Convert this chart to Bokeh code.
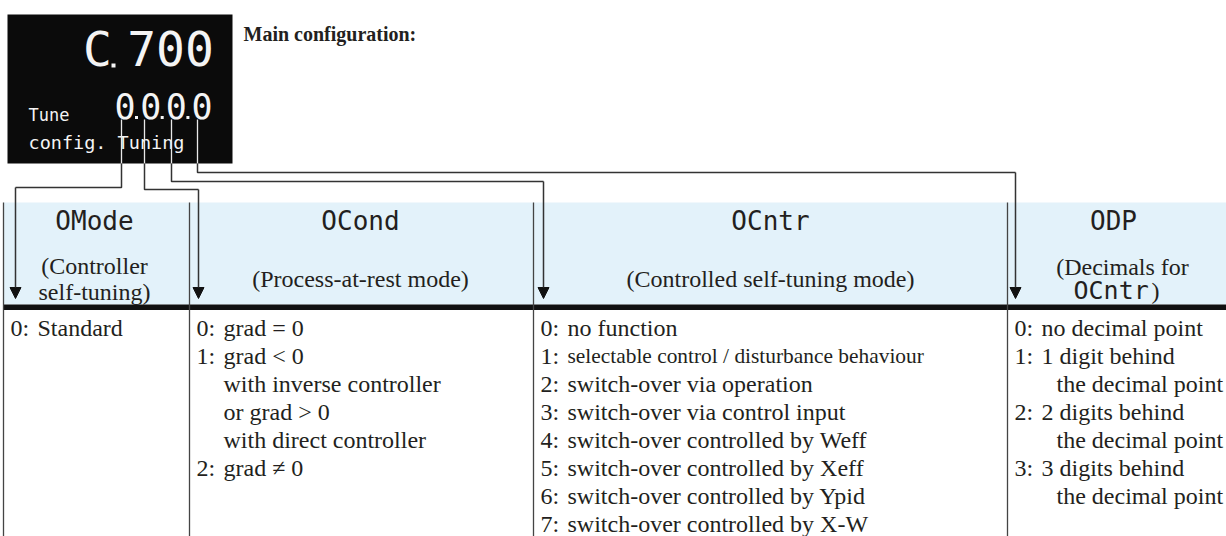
from bokeh.plotting import figure
from bokeh.models import Arrow, NormalHead, ColumnDataSource, Range1d
from bokeh.core.properties import value
from bokeh.embed import file_html
from bokeh.resources import INLINE

# ---------------- content ----------------
title = "Main configuration:"
display_top_code = "C"
display_top_num = "700"
display_digits = ["0", "0", "0", "0"]
display_label_1 = "Tune"
display_label_2 = "config. Tuning"

col_names = ["OMode", "OCond", "OCntr", "ODP"]
col_subtitles = [["(Controller", "self-tuning)"],
                 ["(Process-at-rest mode)"],
                 ["(Controlled self-tuning mode)"],
                 ["(Decimals for", "OCntr", ")"]]

omode_codes = ["0:"]
omode_texts = ["Standard"]
ocond_codes = ["0:", "1:", "", "", "", "2:"]
ocond_texts = ["grad = 0", "grad < 0", "with inverse controller",
               "or  grad > 0", "with direct  controller", "grad \u2260  0"]
ocntr_codes = ["0:", "1:", "2:", "3:", "4:", "5:", "6:", "7:"]
ocntr_texts = ["no function",
               "selectable control / disturbance  behaviour",
               "switch-over via operation",
               "switch-over via control input",
               "switch-over controlled by Weff",
               "switch-over controlled by Xeff",
               "switch-over controlled by Ypid",
               "switch-over controlled by X-W"]
odp_codes = ["0:", "1:", "", "2:", "", "3:", ""]
odp_texts = ["no decimal point", "1 digit behind", "the decimal point",
             "2 digits behind", "the decimal point", "3 digits behind",
             "the decimal point"]

# ---------------- layout ----------------
SERIF = value("Liberation Serif")
MONO = value("DejaVu Sans Mono")
INK = "#231f20"
LINE = "#333333"
LCD = "#f4f4f4"

W, H = 1226, 536
col_edges = [3, 189, 533, 1007, 1232]
header_top, header_bot, rule_bot = 202, 304, 309.5
row0, row_h = 327, 28.0
box = (7, 232, 14, 163)
conn_x = [121, 144, 171, 197]
conn_turn = [187, 189, 181, 172]
arrow_x = [15, 198, 543, 1015]
arrow_tip = 298

p = figure(width=W, height=H, x_range=Range1d(0, W), y_range=Range1d(H, 0),
           output_backend="svg", toolbar_location=None, min_border=0,
           x_axis_location=None, y_axis_location=None, outline_line_color=None,
           background_fill_color="white", border_fill_color="white")
p.grid.visible = False

# header band and rule
p.quad(left=col_edges[0], right=col_edges[-1], top=header_top, bottom=header_bot,
       fill_color="#e3f2fa", line_color=None)
p.quad(left=col_edges[0], right=col_edges[-1], top=header_bot, bottom=rule_bot,
       fill_color="#111111", line_color=None)
# column separators
p.segment(x0=col_edges[:-1], y0=[header_top] * 4, x1=col_edges[:-1], y1=[H + 5] * 4,
          line_color="#444444", line_width=1.3)

# display box
p.quad(left=box[0], right=box[1], top=box[2], bottom=box[3], fill_color="#0b0b0b", line_color=None)
p.text(x=[97], y=[48], text=[display_top_code], text_font=MONO, text_font_size="48px",
       text_color=LCD, text_align="center", text_baseline="middle")
p.scatter(x=[113], y=[65], marker="square", size=4, fill_color=LCD, line_color=None)
p.text(x=[170], y=[48], text=[display_top_num], text_font=MONO, text_font_size="48px",
       text_color=LCD, text_align="center", text_baseline="middle")
dig_x = [124.5 + 25.7 * i for i in range(len(display_digits))]
p.text(x=dig_x, y=[105] * 4, text=display_digits, text_font=MONO, text_font_size="35px",
       text_color=LCD, text_align="center", text_baseline="middle")
p.scatter(x=[x + 11.5 for x in dig_x[:-1]], y=[117] * 3, marker="square", size=3,
          fill_color=LCD, line_color=None)
p.text(x=[28], y=[114], text=[display_label_1], text_font=MONO, text_font_size="17px",
       text_color=LCD, text_align="left", text_baseline="middle")
p.text(x=[28], y=[142], text=[display_label_2], text_font=MONO, text_font_size="18.5px",
       text_color=LCD, text_align="left", text_baseline="middle")

# title
p.text(x=[243], y=[33], text=[title], text_font=SERIF, text_font_size="20px",
       text_font_style="bold", text_color=INK, text_align="left", text_baseline="middle")

# connectors
p.segment(x0=conn_x, y0=[119] * 4, x1=conn_x, y1=[box[3]] * 4, line_color="#e8e8e8", line_width=1.3)
xs, ys = [], []
for cx, ty, ax in zip(conn_x, conn_turn, arrow_x):
    xs.append([cx, cx, ax])
    ys.append([box[3], ty, ty])
p.multi_line(xs=xs, ys=ys, line_color=LINE, line_width=1.5)
for ty, ax in zip(conn_turn, arrow_x):
    p.add_layout(Arrow(x_start=ax, y_start=ty, x_end=ax, y_end=arrow_tip,
                       line_color=LINE, line_width=1.5,
                       end=NormalHead(size=11, fill_color="#111111", line_color="#111111")))

# header texts
centers = [94, 360, 770, 1113]
p.text(x=centers, y=[220] * 4, text=col_names, text_font=MONO, text_font_size="26px",
       text_color=INK, text_align="center", text_baseline="middle")
sx, sy, st = [], [], []
for c, subs in zip(centers, col_subtitles[:3]):
    if len(subs) == 2:
        sx += [c, c]; sy += [265, 291]; st += subs
    else:
        sx.append(c); sy.append(278); st.append(subs[0])
sx.append(1122); sy.append(266); st.append(col_subtitles[3][0])
p.text(x=sx, y=sy, text=st, text_font=SERIF, text_font_size="24px", text_color=INK,
       text_align="center", text_baseline="middle")
p.text(x=[1073], y=[290], text=[col_subtitles[3][1]], text_font=MONO,
       text_font_size="25px", text_color=INK, text_align="left", text_baseline="middle")
p.text(x=[1151], y=[290], text=[col_subtitles[3][2]], text_font=SERIF,
       text_font_size="24px", text_color=INK, text_align="left", text_baseline="middle")

# body texts
bx, by, bt, bs = [], [], [], []
body = [(omode_codes, omode_texts, 0), (ocond_codes, ocond_texts, 0),
        (ocntr_codes, ocntr_texts, 0), (odp_codes, odp_texts, 15)]
for ci, (codes, texts, extra) in enumerate(body):
    left = col_edges[ci]
    for ri, (cd, tx) in enumerate(zip(codes, texts)):
        y = row0 + ri * row_h
        if cd:
            bx.append(left + 7); by.append(y); bt.append(cd); bs.append("24px")
            bx.append(left + 34); by.append(y); bt.append(tx)
        else:
            bx.append(left + 34 + extra); by.append(y); bt.append(tx)
        bs.append("21.4px" if len(tx) > 40 else "24px")
src = ColumnDataSource(dict(x=bx, y=by, text=bt, size=bs))
p.text(x="x", y="y", text="text", text_font_size="size", source=src, text_font=SERIF,
       text_color=INK, text_align="left", text_baseline="middle")

open("out.html", "w").write(file_html(p, INLINE))
